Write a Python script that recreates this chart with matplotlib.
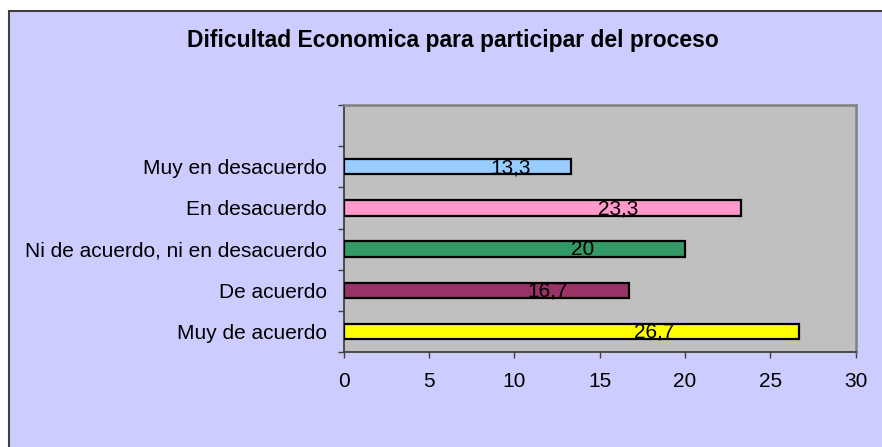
import matplotlib
matplotlib.use("Agg")
import matplotlib.pyplot as plt
from matplotlib.patches import Rectangle
from matplotlib.ticker import FixedLocator

plt.rcParams['font.family'] = ['Liberation Sans', 'DejaVu Sans']

title = "Dificultad Economica para participar del proceso"
categories = ["Muy de acuerdo", "De acuerdo", "Ni de acuerdo, ni en desacuerdo",
              "En desacuerdo", "Muy en desacuerdo"]
values = [26.7, 16.7, 20, 23.3, 13.3]
value_labels = ["26,7", "16,7", "20", "23,3", "13,3"]
bar_colors = ["#FFFF00", "#993366", "#339966", "#FF99CC", "#99CCFF"]
x_ticks = [0, 5, 10, 15, 20, 25, 30]

W, H = 882, 447
fig = plt.figure(figsize=(W / 100, H / 100), dpi=100)
fig.patch.set_facecolor("white")

# Chart area with border (extends past right/bottom edges)
bg = Rectangle((8.5 / W, -0.2), 1.2, 1.2 - 10.5 / H, transform=fig.transFigure,
               facecolor="#CCCCFF", edgecolor="#404040", linewidth=1.5, zorder=-10)
fig.patches.append(bg)

ax = fig.add_axes([343.6 / W, 1 - 352 / H, (855.5 - 343.6) / W, (352 - 105) / H])
ax.set_zorder(5)
ax.set_facecolor("#C0C0C0")

pos = list(range(len(categories)))
ax.barh(pos, values, height=0.37, color=bar_colors, edgecolor="black", linewidth=1.6,
        zorder=3)

for p, v, lab in zip(pos, values, value_labels):
    ax.text(0.627 * v + 1.46, p + 0.03, lab, ha="center", va="center_baseline",
            fontsize=15, color="black", zorder=4)

ax.set_xlim(0, 30)
ax.set_ylim(-0.5, len(categories) + 0.5)

ax.set_xticks(x_ticks)
ax.set_xticklabels([str(t) for t in x_ticks], fontsize=15)
ax.tick_params(axis="x", direction="out", length=4, width=1, color="#404040", pad=10.5)

ax.set_yticks(pos)
ax.set_yticklabels(categories, fontsize=15)
ax.yaxis.set_minor_locator(FixedLocator([i - 0.5 for i in range(len(categories) + 2)]))
ax.tick_params(axis="y", which="major", length=0, pad=12)
ax.tick_params(axis="y", which="minor", direction="out", length=4, width=1, color="#404040")

for side in ("left", "bottom"):
    ax.spines[side].set_color("#404040")
    ax.spines[side].set_linewidth(1.3)
for side in ("top", "right"):
    ax.spines[side].set_color("#808080")
    ax.spines[side].set_linewidth(1.8)

fig.text(453 / W, 1 - 40 / H, title, ha="center", va="center", fontsize=16.5,
         fontweight="bold", zorder=6)

fig.savefig("out.png", dpi=100, facecolor=fig.get_facecolor())
